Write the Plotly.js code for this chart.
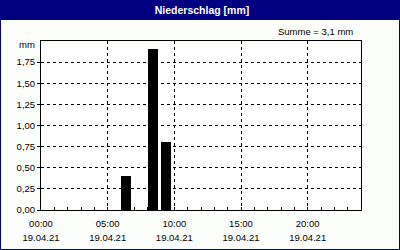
<!DOCTYPE html>
<html>
<head>
<meta charset="utf-8">
<script src="https://cdn.plot.ly/plotly-3.0.1.min.js"></script>
<style>
html,body{margin:0;padding:0;background:#fcfefc;}
#chart{width:400px;height:250px;}
</style>
</head>
<body>
<div id="chart"></div>
<script>
// ---- data ----
const times = ['2021-04-19 06:00', '2021-04-19 08:00', '2021-04-19 09:00'];
const values = [0.4, 1.9, 0.8];
const yTickVals = [0, 0.25, 0.5, 0.75, 1.0, 1.25, 1.5, 1.75];
const xRange = ['2021-04-19 00:00', '2021-04-20 00:00'];
const titleText = 'Niederschlag [mm]';
const sumText = 'Summe = 3,1 mm';
const unitText = 'mm';

// ---- layout helpers ----
const W = 400, H = 250, ML = 41, MR = 39, MT = 41, MB = 40;
const PW = W - ML - MR, PH = H - MT - MB;
const px = p => (p - ML) / PW;
const py = q => (H - MB - q) / PH;
const HOUR = 3600000;
const navy = '#000080';
const font = {family: 'Liberation Sans, Arial, sans-serif', size: 9.5, color: '#000'};

const traces = [
  {
    type: 'bar', x: times, y: values,
    width: values.map(() => 0.75 * HOUR), offset: 0,
    marker: {color: '#000', line: {width: 0}},
    hoverinfo: 'skip', showlegend: false
  },
  {
    type: 'scatter', mode: 'markers', x: times, y: values, xaxis: 'x2',
    marker: {opacity: 0}, hoverinfo: 'skip', showlegend: false
  }
];

const grid = {showgrid: true, gridcolor: '#000', gridwidth: 1, griddash: '3px,3px'};

const layout = {
  width: W, height: H,
  margin: {l: ML, r: MR, t: MT, b: MB, pad: 0},
  paper_bgcolor: '#fcfefc', plot_bgcolor: '#ffffff',
  separators: ',.',
  font: font,
  showlegend: false,
  bargap: 0,
  title: {
    text: '<b>' + titleText + '</b>',
    font: {family: 'Liberation Sans, Arial, sans-serif', size: 10.5, color: '#ffffff'},
    x: 0.505, xref: 'container', xanchor: 'center',
    y: 1 - 10 / H, yref: 'container', yanchor: 'middle'
  },
  xaxis: Object.assign({}, grid, {
    type: 'date', range: xRange, dtick: 5 * HOUR, tick0: xRange[0],
    tickformat: '%H:%M', ticks: 'inside', ticklen: 3, tickcolor: '#000',
    showline: true, linecolor: '#000', linewidth: 1, mirror: true,
    zeroline: false, fixedrange: true, ticklabelstandoff: 5,
    tickfont: font,
    minor: {dtick: HOUR, tick0: xRange[0], ticks: 'inside', ticklen: 3, tickcolor: '#000', showgrid: false}
  }),
  xaxis2: {
    type: 'date', range: xRange, dtick: 5 * HOUR, tick0: xRange[0],
    tickformat: '%d.%m.%y', ticks: '', overlaying: 'x', side: 'bottom', anchor: 'y',
    showgrid: false, zeroline: false, showline: false, fixedrange: true,
    ticklabelstandoff: 20, tickfont: font
  },
  yaxis: Object.assign({}, grid, {
    range: [0, 2], tickvals: yTickVals, tickformat: '.2f',
    ticks: 'outside', ticklen: 3, tickcolor: '#000',
    showline: true, linecolor: '#000', linewidth: 1, mirror: true,
    zeroline: false, fixedrange: true, tickfont: font
  }),
  shapes: [
    {type: 'rect', xref: 'paper', yref: 'paper', layer: 'below',
     x0: px(0), x1: px(W), y0: py(0), y1: py(20),
     fillcolor: navy, line: {width: 0}},
    {type: 'rect', xref: 'paper', yref: 'paper', layer: 'below',
     x0: px(0.5), x1: px(W - 0.5), y0: py(0.5), y1: py(H - 0.5),
     fillcolor: 'rgba(0,0,0,0)', line: {color: navy, width: 1}}
  ],
  annotations: [
    {text: sumText, xref: 'paper', yref: 'paper', x: px(355), y: py(31.5),
     xanchor: 'right', yanchor: 'middle', showarrow: false, font: font},
    {text: unitText, xref: 'paper', yref: 'paper', x: px(37), y: py(44.5),
     xanchor: 'right', yanchor: 'middle', showarrow: false, font: font}
  ]
};

Plotly.newPlot('chart', traces, layout, {staticPlot: true, displayModeBar: false});
</script>
</body>
</html>
